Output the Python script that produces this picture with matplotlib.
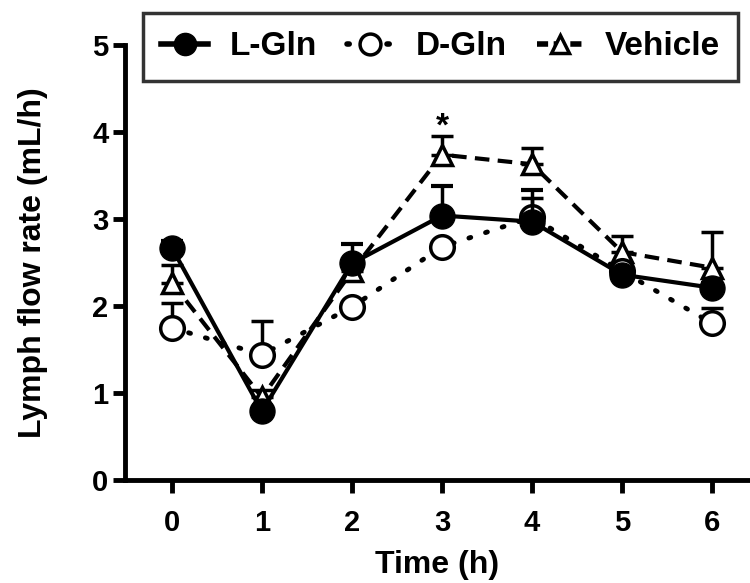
import matplotlib.pyplot as plt
from matplotlib.lines import Line2D
import numpy as np

# time points (h)
time = [0, 1, 2, 3, 4, 5, 6]

# mean values
l_gln = [2.67, 0.79, 2.49, 3.04, 2.97, 2.36, 2.21]
d_gln = [1.75, 1.44, 1.99, 2.68, 3.02, 2.40, 1.80]
vehicle = [2.27, 0.95, 2.40, 3.74, 3.63, 2.62, 2.44]

# upper error (SEM)
l_gln_err = [0.08, 0.05, 0.22, 0.34, 0.36, 0.06, 0.05]
d_gln_err = [0.28, 0.39, 0.05, 0.05, 0.22, 0.05, 0.18]
vehicle_err = [0.20, 0.08, 0.08, 0.22, 0.19, 0.19, 0.41]

plt.rcParams['font.family'] = ['Liberation Sans', 'DejaVu Sans']
plt.rcParams['font.weight'] = 'bold'

fig = plt.figure(figsize=[7.5, 5.83], dpi=100)
ax = fig.add_axes([0.1667, 0.1767, 0.8333, 0.746])

zero = np.zeros(len(time))
veh_ls = (0, (3.5, 2))
dgl_ls = (0, (0.4, 3.2))
ax.errorbar(time, vehicle, yerr=[zero, vehicle_err], color='k', lw=3, ls=veh_ls,
            marker='^', ms=14, mfc='white', mec='k', mew=2.5,
            capsize=8, capthick=3, elinewidth=2.5, zorder=3)
ax.errorbar(time, d_gln, yerr=[zero, d_gln_err], color='k', lw=3.5, ls=dgl_ls,
            dash_capstyle='round', marker='o', ms=17, mfc='white', mec='k', mew=2.5,
            capsize=8, capthick=3, elinewidth=2.5, zorder=4)
ax.errorbar(time, l_gln, yerr=[zero, l_gln_err], color='k', lw=3, ls='-',
            marker='o', ms=18, mfc='k', mec='k',
            capsize=8, capthick=3, elinewidth=2.5, zorder=5)

ax.text(3, 4.06, '*', ha='center', va='center', fontsize=24, fontweight='bold')

ax.set_xlim(-0.52, 6.42)
ax.set_ylim(0, 5)
ax.set_xticks(time)
ax.set_yticks([0, 1, 2, 3, 4, 5])

for s in ['top', 'right']:
    ax.spines[s].set_visible(False)
for s in ['left', 'bottom']:
    ax.spines[s].set_linewidth(3.5)
ax.tick_params(axis='both', width=3.5, length=9, labelsize=21, pad=3)
ax.tick_params(axis='x', pad=12)

ax.set_xlabel('Time (h)', fontsize=23, fontweight='bold', labelpad=9)
ax.set_ylabel('Lymph flow rate (mL/h)', fontsize=23, fontweight='bold', labelpad=32)

handles = [
    Line2D([], [], color='k', lw=4, ls='-', marker='o', ms=16, mfc='k'),
    Line2D([], [], color='k', lw=4, ls=dgl_ls, dash_capstyle='round',
           marker='o', ms=15, mfc='white', mew=2.5),
    Line2D([], [], color='k', lw=4, ls=(0, (2, 1)), marker='^', ms=13,
           mfc='white', mew=2.5),
]
labels = ['L-Gln', 'D-Gln', 'Vehicle']
leg = ax.legend(handles, labels, loc='upper left', bbox_to_anchor=(0.0288, 1.0736),
                borderaxespad=0, ncol=3, fontsize=24, frameon=True, fancybox=False,
                edgecolor='k', handlelength=1.4, columnspacing=0.9,
                handletextpad=0.65, borderpad=0.55)
leg.get_frame().set_linewidth(2.5)
leg.set_clip_on(False)

plt.savefig('out.png', dpi=100)
